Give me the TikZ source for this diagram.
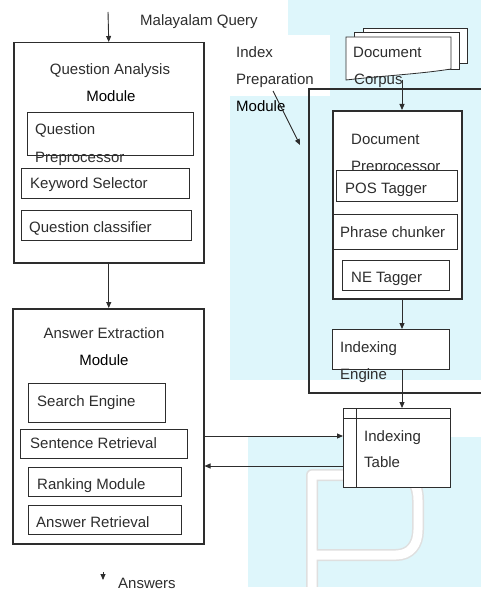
\documentclass[tikz,border=0pt]{standalone}
\usepackage{fontspec}
\setmainfont{Liberation Sans}
\usetikzlibrary{arrows.meta}
\definecolor{wm}{RGB}{222,246,251}
\definecolor{ink}{RGB}{45,45,45}
\begin{document}
\begin{tikzpicture}[x=1pt,y=-1pt,
  box/.style={draw=ink, line width=1pt, fill=white, anchor=north west, inner sep=0pt},
  bigbox/.style={box, line width=1.5pt},
  lbl/.style={anchor=base west, inner sep=0pt, font=\fontsize{15}{17}\selectfont, text=ink},
  clbl/.style={lbl, anchor=base},
  arr/.style={-{Triangle[length=6pt,width=5pt]}, line width=0.9pt, draw=ink, fill=ink}]
\useasboundingbox (0,0) rectangle (481,591);
% faint watermark background
\fill[wm] (230,0) rectangle (481,591);
\fill[white] (215,0) rectangle (288,35);
\fill[white] (226,35) rectangle (330,96);
\fill[white] (230,380) rectangle (481,437);
\fill[white] (230,437) rectangle (248,591);
\draw[gray!25, line width=12pt, line join=round] (312,600) -- (312,475) -- (398,475)
  .. controls (412,475) and (418,485) .. (418,500) -- (418,530)
  .. controls (418,545) and (410,555) .. (396,555) -- (312,555);
\draw[white, line width=9pt, line join=round] (312,600) -- (312,475) -- (398,475)
  .. controls (412,475) and (418,485) .. (418,500) -- (418,530)
  .. controls (418,545) and (410,555) .. (396,555) -- (312,555);
\fill[white] (230,587) rectangle (481,591);

% ---------------- left column ----------------
\node[bigbox, minimum width=190pt, minimum height=220pt] (qa) at (13,42) {};
\node[box, minimum width=166pt, minimum height=43pt] (qpre) at (27,112) {};
\node[box, minimum width=168pt, minimum height=30pt] (kw) at (21,168) {};
\node[box, minimum width=170pt, minimum height=30pt] (qc) at (21,210) {};

\node[clbl] (tqa1) at (110,75) {Question Analysis};
\node[clbl, text=black] (tqa2) at (111,102) {Module};
\node[lbl] (tqp1) at (35,135) {Question};
\node[lbl] (tqp2) at (35,162) {Preprocessor};
\node[lbl] (tkw) at (30,188) {Keyword Selector};
\node[lbl] (tqc) at (29,232) {Question classifier};

\node[bigbox, minimum width=191pt, minimum height=235pt] (ae) at (12,308) {};
\node[box, minimum width=137pt, minimum height=39pt] (se) at (28,383) {};
\node[box, minimum width=167pt, minimum height=29pt] (sr) at (20,429) {};
\node[box, minimum width=153pt, minimum height=29pt] (rm) at (28,467) {};
\node[box, minimum width=153pt, minimum height=29pt] (ar) at (28,505) {};

\node[clbl] (tae1) at (104,338) {Answer Extraction};
\node[clbl, text=black] (tae2) at (104,365) {Module};
\node[lbl] (tse) at (37,406) {Search Engine};
\node[lbl] (tsr) at (30,448) {Sentence Retrieval};
\node[lbl] (trm) at (37,489) {Ranking Module};
\node[lbl] (tar) at (36,527) {Answer Retrieval};

\node[lbl] (tmq) at (140,26) {Malayalam Query};
\node[lbl] (tans) at (118,588) {Answers};

% ---------------- right column ----------------
\node[lbl] (tip1) at (236,58) {Index};
\node[lbl] (tip2) at (236,85) {Preparation};
\node[lbl, text=black] (tip3) at (236,112) {Module};

% big index preparation module box (open to the right)
\draw[ink, line width=1.3pt] (481,89) -- (309,89) -- (309,393) -- (481,393);

% document corpus (stacked pages)
\filldraw[fill=white, draw=ink, line width=0.8pt] (363,28) rectangle (467,63);
\filldraw[fill=white, draw=ink, line width=0.8pt] (354,32) rectangle (459,69);
\filldraw[fill=white, draw=ink, line width=0.8pt]
  (346,37) -- (451,37) -- (451,69) .. controls (420,74) and (380,76) .. (346,80) -- cycle;
\node[lbl] (tdc1) at (353,58) {Document};
\node[lbl] (tdc2) at (354,85) {Corpus};
\coordinate (corp) at (402,80);

% document preprocessor
\node[box, line width=2pt, minimum width=129pt, minimum height=188pt] (dp) at (332,110) {};
\fill[white] (342,121) rectangle (448,160);
\node[lbl] (tdp1) at (351,144) {Document};
\node[lbl] (tdp2) at (351,171) {Preprocessor};
\node[box, minimum width=121pt, minimum height=31pt] (pos) at (336,170) {};
\node[box, minimum width=124pt, minimum height=35pt] (pc) at (333,214) {};
\node[box, minimum width=107pt, minimum height=30pt] (ne) at (342,260) {};
\node[lbl] (tpos) at (345,193) {POS Tagger};
\node[lbl] (tpc) at (340,237) {Phrase chunker};
\node[lbl] (tne) at (351,282) {NE Tagger};

% indexing engine
\node[box, line width=1.3pt, minimum width=117pt, minimum height=40pt] (ie) at (332,329) {};
\node[lbl] (tie1) at (340,352) {Indexing};
\node[lbl] (tie2) at (340,379) {Engine};

% indexing table
\node[box, minimum width=107pt, minimum height=79pt] (it) at (343,408) {};
\draw[ink, line width=0.8pt] (it.north west) ++(0,10) -- ++(107,0);
\draw[ink, line width=0.8pt] (it.north west) ++(13,0) -- ++(0,79);
\node[lbl] (tit1) at (364,441) {Indexing};
\node[lbl] (tit2) at (364,467) {Table};

% ---------------- connectors ----------------
\coordinate (mq) at (108,12);
\draw[arr] (mq) -- (qa.north);
\draw[arr] (qa.south) -- (qa.south |- ae.north);
\coordinate (ipa) at (273,91);
\coordinate (ipb) at (300,145);
\draw[arr] (ipa) -- (ipb);
\draw[arr] (corp) -- (corp |- dp.north);
\draw[arr] (dp.south -| corp) -- (ie.north -| corp);
\draw[arr] (ie.south -| corp) -- (it.north -| corp);
\coordinate (ya) at (0,436);
\coordinate (yb) at (0,466);
\draw[arr] (ae.east |- ya) -- (it.west |- ya);
\draw[arr] (it.west |- yb) -- (ae.east |- yb);
\coordinate (ansa) at (103,572);
\coordinate (ansb) at (103,580);
\draw[arr] (ansa) -- (ansb);
\end{tikzpicture}
\end{document}
